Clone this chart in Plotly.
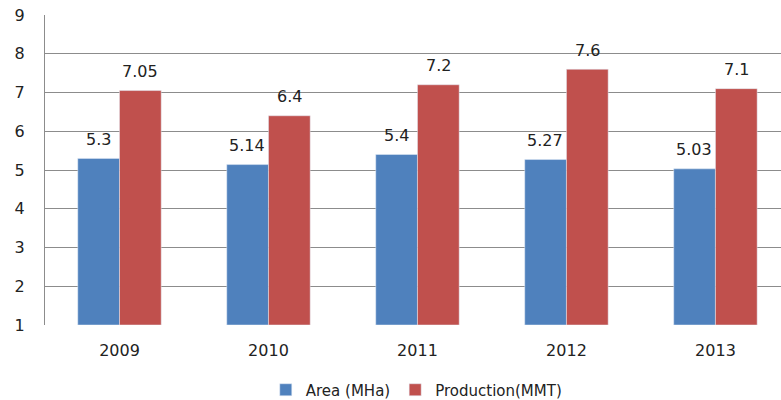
import plotly.graph_objects as go

years = ["2009", "2010", "2011", "2012", "2013"]
area = [5.3, 5.14, 5.4, 5.27, 5.03]
production = [7.05, 6.4, 7.2, 7.6, 7.1]
area_labels = ["5.3", "5.14", "5.4", "5.27", "5.03"]
prod_labels = ["7.05", "6.4", "7.2", "7.6", "7.1"]
axis_base = 1

font = "DejaVu Sans"

fig = go.Figure()
fig.add_trace(go.Bar(x=years, y=[v - axis_base for v in area], base=axis_base,
                     name="Area (MHa)", marker_color="#4F81BD"))
fig.add_trace(go.Bar(x=years, y=[v - axis_base for v in production], base=axis_base,
                     name="Production(MMT)", marker_color="#C0504D"))

annotations = []
for i, (v, lab) in enumerate(zip(area, area_labels)):
    annotations.append(dict(x=i, y=v, xref="x", yref="y", text=lab, showarrow=False,
                            xshift=-21, yshift=19, yanchor="middle",
                            font=dict(size=16, color="#222", family=font)))
for i, (v, lab) in enumerate(zip(production, prod_labels)):
    annotations.append(dict(x=i, y=v, xref="x", yref="y", text=lab, showarrow=False,
                            xshift=21, yshift=19, yanchor="middle",
                            font=dict(size=16, color="#222", family=font)))

fig.update_layout(
    width=781, height=400,
    margin=dict(l=45, r=0, t=15, b=75),
    plot_bgcolor="white", paper_bgcolor="white",
    barmode="group", bargap=0.44, bargroupgap=0,
    font=dict(family=font, size=15, color="#222"),
    showlegend=True,
    annotations=annotations,
    legend=dict(orientation="h", x=0.533, xanchor="center", xref="container",
                y=0.025, yanchor="middle", yref="container",
                font=dict(size=15), itemwidth=30, tracegroupgap=0),
    xaxis=dict(type="category", range=[-0.5, 4.44], showgrid=False, showline=False,
               ticks="", tickfont=dict(size=16), ticklabelstandoff=14),
    yaxis=dict(range=[1, 9], dtick=1, showgrid=True, gridcolor="#8c8c8c", gridwidth=1,
               showline=True, linecolor="#8c8c8c", zeroline=False, ticks="",
               tickfont=dict(size=16), ticklabelstandoff=16),
)
fig.write_html("out.html")
